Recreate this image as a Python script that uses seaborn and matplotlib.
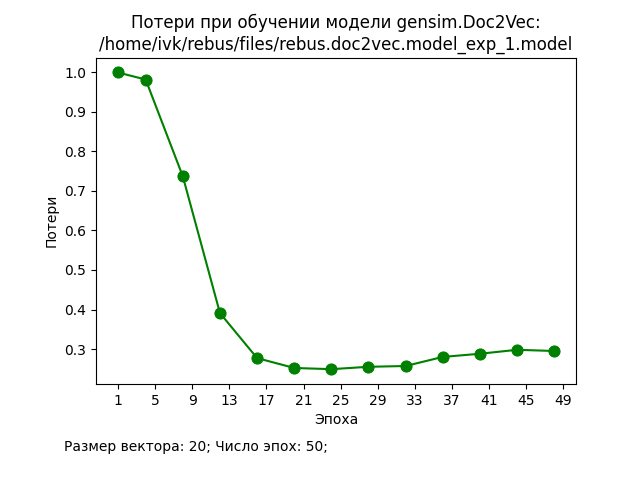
import matplotlib
matplotlib.use("Agg")
import matplotlib.pyplot as plt
import seaborn as sns
import pandas as pd

epochs = [1, 4, 8, 12, 16, 20, 24, 28, 32, 36, 40, 44, 48]
losses = [1.0, 0.982, 0.737, 0.391, 0.277, 0.252, 0.249, 0.255, 0.257, 0.280, 0.288, 0.298, 0.295]
xticks = list(range(1, 50, 4))

df = pd.DataFrame({"epoch": epochs, "loss": losses})

fig = plt.figure(figsize=(6.4, 4.8), dpi=100)
ax = fig.add_subplot(111)
fig.subplots_adjust(left=0.15, bottom=0.2, right=0.9, top=0.88)
sns.lineplot(data=df, x="epoch", y="loss", color="green", marker="o",
             markersize=8, markeredgecolor="green", linewidth=1.5, ax=ax)
ax.set_xticks(xticks)
ax.set_xlabel("Эпоха")
ax.set_ylabel("Потери")
ax.set_title("Потери при обучении модели gensim.Doc2Vec:\n/home/ivk/rebus/files/rebus.doc2vec.model_exp_1.model")
fig.text(0.1, 0.06, "Размер вектора: 20; Число эпох: 50;")
fig.savefig("out.png", dpi=100)
